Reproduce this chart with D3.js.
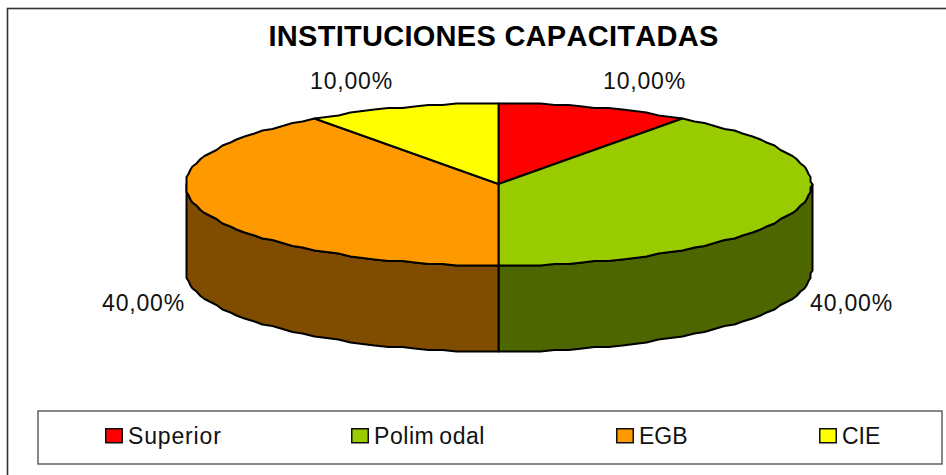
<!DOCTYPE html>
<html><head><meta charset="utf-8">
<style>html,body{margin:0;padding:0;background:#fff;overflow:hidden}svg{display:block}text{font-family:"Liberation Sans",Arial,sans-serif;fill:#111}</style>
<script src="https://cdn.jsdelivr.net/npm/d3@7"></script></head><body>
<script>
const categories=["Superior","Polimodal","EGB","CIE"];
const values=[10,40,40,10];
const valueLabels=["10,00%","40,00%","40,00%","10,00%"];
const topColors=["#FF0000","#99CC00","#FF9900","#FFFF00"];
const sideColors=["#800000","#4D6600","#804D00","#808000"];
const titleText="INSTITUCIONES CAPACITADAS";

const W=946,H=475,cx=498.5,cy=184.5,rx=313,ry=81,depth=86;
const svg=d3.select("body").append("svg").attr("width",W).attr("height",H);
svg.append("rect").attr("x",7.5).attr("y",8.5).attr("width",W+20).attr("height",H+20).attr("fill","#fff").attr("stroke","#333").attr("stroke-width",1.6);
svg.append("text").attr("x",493.5).attr("y",46).attr("text-anchor","middle").attr("font-size",29).attr("font-weight","bold").attr("letter-spacing",0.28).style("font-kerning","none").style("fill","#000").text(titleText);

const pie=d3.pie().sort(null).value(d=>d)(values);
// slightly coarse outline, as in the low-resolution original
const snap=(v,g)=>Math.round(v/g)*g;
const rim=(a,dz)=>[cx+snap(rx*Math.sin(a),2),snap(cy-ry*Math.cos(a),1.5)+dz];
const steps=(a0,a1)=>{const n=Math.max(2,Math.round((a1-a0)/(Math.PI/70)));return d3.range(n+1).map(k=>a0+(a1-a0)*k/n);};
const line=d3.line();
const sideG=svg.append("g"),topG=svg.append("g");
pie.forEach((p,i)=>{
  const a0=Math.max(p.startAngle,Math.PI/2),a1=Math.min(p.endAngle,3*Math.PI/2);
  if(a1<=a0)return;
  const as=steps(a0,a1);
  const pts=[...as.map(a=>rim(a,0)),...as.slice().reverse().map(a=>rim(a,depth))];
  sideG.append("path").attr("d",line(pts)+"Z").attr("fill",sideColors[i]).attr("stroke","#000").attr("stroke-width",2).attr("stroke-linejoin","round");
});
topG.selectAll("path").data(pie).join("path")
  .attr("d",p=>line([[cx,cy-.5],...steps(p.startAngle,p.endAngle).map(a=>rim(a,0))])+"Z")
  .attr("fill",(d,i)=>topColors[i]).attr("stroke","#000").attr("stroke-width",2).attr("stroke-linejoin","round");

const labelPos=[[644.5,89],[851.5,311],[143.5,311],[351.5,89]];
svg.selectAll("text.lab").data(valueLabels).join("text").attr("class","lab")
  .attr("x",(d,i)=>labelPos[i][0]).attr("y",(d,i)=>labelPos[i][1]).attr("text-anchor","middle").attr("font-size",23).attr("letter-spacing",0.8).text(d=>d);

svg.append("rect").attr("x",38).attr("y",411).attr("width",904).attr("height",53).attr("fill","#fff").attr("stroke","#555").attr("stroke-width",1.4);
const legX=[105,351,616,819],legTextDx=["","0 0 0 0 0 5","",""],legSpacing=[0.85,0.55,0,0];
const lg=svg.selectAll("g.leg").data(categories).join("g").attr("class","leg").attr("transform",(d,i)=>`translate(${legX[i]},428)`);
lg.append("rect").attr("x",.75).attr("y",.75).attr("width",16.5).attr("height",14).attr("fill",(d,i)=>topColors[i]).attr("stroke","#111").attr("stroke-width",1.5);
lg.append("text").attr("x",23).attr("y",15.5).attr("font-size",23).attr("dx",(d,i)=>legTextDx[i]).attr("letter-spacing",(d,i)=>legSpacing[i]).text(d=>d);
</script></body></html>
